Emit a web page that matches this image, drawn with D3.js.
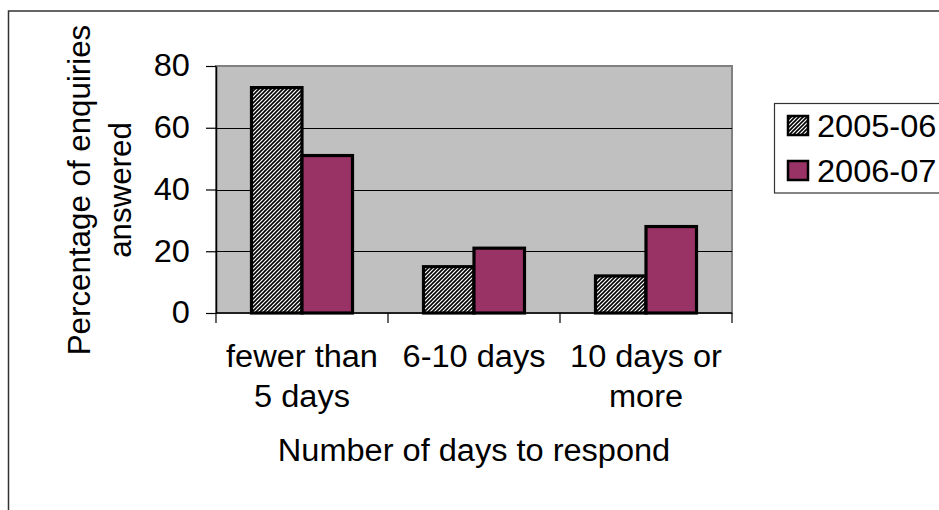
<!DOCTYPE html>
<html><head><meta charset="utf-8">
<script src="https://cdn.jsdelivr.net/npm/d3@7"></script>
<style>
html,body{margin:0;padding:0;background:#fff;}
svg{display:block;}
text{font-family:"Liberation Sans",Arial,sans-serif;fill:#000;}
</style></head>
<body>
<script>
const categories = [["fewer than","5 days"],["6-10 days"],["10 days or","more"]];
const seriesNames = ["2005-06","2006-07"];
const values2005 = [73, 15, 12];
const values2006 = [51, 21, 28];
const yTicks = [0, 20, 40, 60, 80];
const yTitle = ["Percentage of enquiries","answered"];
const xTitle = "Number of days to respond";

(function(){
const W = 939, H = 510;
const FS = 31;
const SX = 1.05;
const svg = d3.select("body").append("svg").attr("width", W).attr("height", H);

function label(g, x, y, str, anchor, rot, sx) {
  return g.append("text")
    .attr("transform", `translate(${x},${y})` + (rot ? ` rotate(${rot})` : "") + ` scale(${sx || SX},1)`)
    .attr("text-anchor", anchor || "start")
    .style("font-size", FS + "px")
    .text(str);
}

const defs = svg.append("defs");
const pat = defs.append("pattern").attr("id","hatch").attr("patternUnits","userSpaceOnUse")
  .attr("width",4).attr("height",4);
pat.append("rect").attr("width",4).attr("height",4).attr("fill","#fff");
pat.append("path").attr("d","M-1,1 l2,-2 M0,4 l4,-4 M3,5 l2,-2")
  .attr("stroke","#000").attr("stroke-width",1.6);

// outer frame
svg.append("rect").attr("x",8.5).attr("y",11).attr("width",1000).attr("height",600)
  .attr("fill","none").attr("stroke","#333").attr("stroke-width",1.5);

const pL = 216, pR = 732, pT = 66, pB = 313;
const x0 = d3.scaleBand().domain(d3.range(categories.length)).range([pL, pR]).padding(0);
const x1 = d3.scaleBand().domain(seriesNames).range([0, x0.bandwidth()]).paddingInner(0).paddingOuter(0.703);
const y = d3.scaleLinear().domain([0, 80]).range([pB, pT]);

// plot area
svg.append("rect").attr("x",pL).attr("y",pT).attr("width",pR-pL).attr("height",pB-pT)
  .attr("fill","#c0c0c0").attr("stroke","#808080").attr("stroke-width",2);

// gridlines
svg.append("g").selectAll("line").data(yTicks.filter(t=>t>0 && t<80)).join("line")
  .attr("x1",pL).attr("x2",pR).attr("y1",d=>Math.round(y(d))+0.5).attr("y2",d=>Math.round(y(d))+0.5)
  .attr("stroke","#000").attr("stroke-width",1);

// bars
const seriesVals = [values2005, values2006];
const fills = ["url(#hatch)", "#993366"];
const gBars = svg.append("g");
seriesNames.forEach((s, si) => {
  gBars.selectAll(null).data(seriesVals[si]).join("rect")
    .attr("x", (d,i) => x0(i) + x1(s))
    .attr("y", d => y(d))
    .attr("width", x1.bandwidth())
    .attr("height", d => y(0) - y(d))
    .attr("fill", fills[si])
    .attr("stroke","#000").attr("stroke-width",3.2);
});

// y axis
const yAxis = d3.axisLeft(y).tickValues(yTicks).tickSize(10).tickSizeOuter(0).tickPadding(14.8);
const gy = svg.append("g").attr("transform",`translate(${pL},0)`).call(yAxis);
gy.select(".domain").attr("stroke","#000").attr("stroke-width",1.5);
gy.selectAll(".tick line").attr("stroke","#000").attr("stroke-width",1.2);
gy.selectAll(".tick text").style("font-size",FS+"px")
  .style("font-family",'"Liberation Sans",Arial,sans-serif').attr("fill","#000")
  .attr("transform",`scale(${SX},1)`);

// x axis line and boundary ticks
svg.append("line").attr("x1",pL).attr("x2",pR).attr("y1",pB).attr("y2",pB)
  .attr("stroke","#000").attr("stroke-width",1.5);
const bounds = d3.range(categories.length).map(i=>x0(i)).concat([x0(categories.length-1)+x0.bandwidth()]);
svg.append("g").selectAll("line").data(bounds).join("line")
  .attr("x1",d=>d).attr("x2",d=>d).attr("y1",pB).attr("y2",pB+10)
  .attr("stroke","#000").attr("stroke-width",1.2);

// x category labels
const gx = svg.append("g");
categories.forEach((lines, i) => {
  const cx = x0(i) + x0.bandwidth()/2;
  lines.forEach((ln, k) => label(gx, cx, 367 + k*39.5, ln, "middle"));
});

// x title
label(svg, (pL+pR)/2, 461, xTitle, "middle");

// y title
yTitle.forEach((ln, k) => label(svg, 90 + k*41, 190, ln, "middle", -90, 1.01));

// legend
const lg = svg.append("g");
lg.append("rect").attr("x",774.5).attr("y",103.5).attr("width",300).attr("height",89.5)
  .attr("fill","#fff").attr("stroke","#333").attr("stroke-width",1.2);
seriesNames.forEach((s, i) => {
  const yy = 115 + i*45;
  lg.append("rect").attr("x",788).attr("y",yy+1).attr("width",20).attr("height",19)
    .attr("fill",fills[i]).attr("stroke","#000").attr("stroke-width",2.5);
  label(lg, 817, yy+21.7, s, "start");
});
})();
</script>
</body></html>
